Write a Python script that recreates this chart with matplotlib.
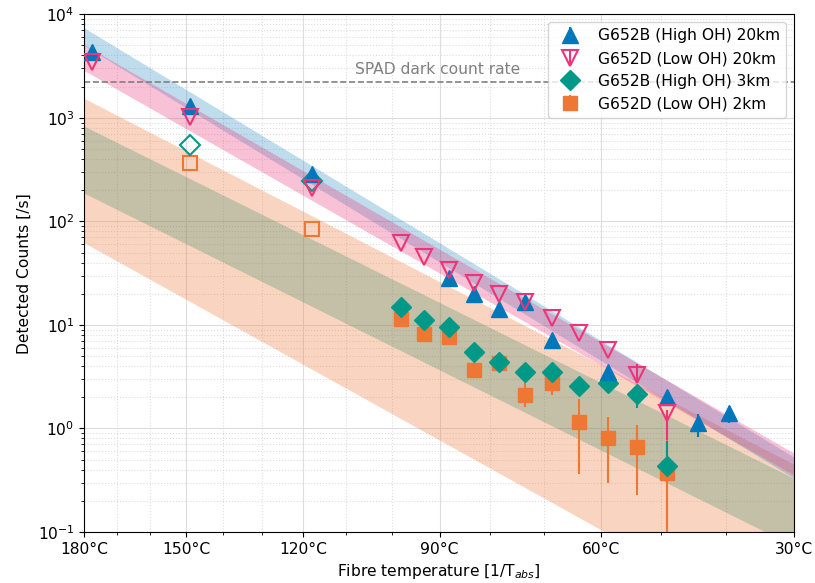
import numpy as np
import matplotlib
matplotlib.use('Agg')
import matplotlib.pyplot as plt
from matplotlib.ticker import FixedLocator, FixedFormatter

plt.rcParams['font.size'] = 11.2

# temperatures of measurement points (deg C)
temp_b20 = [177.7, 148.9, 117.9, 88.1, 83.2, 78.3, 73.5, 68.6, 58.8, 49.1, 44.2, 39.5]
cnt_b20 = [4300, 1300, 286, 28.1, 20.1, 14.4, 16.7, 7.1, 3.5, 2.0, 1.12, 1.40]
err_b20_lo = [0, 0, 0, 0, 0, 0, 0, 0, 0, 0, 0.30, 0.27]
err_b20_hi = [0, 0, 0, 0, 0, 0, 0, 0, 0, 0, 0.25, 0.24]

temp_d20 = [177.7, 148.9, 117.9, 98.1, 93.2, 88.1, 83.2, 78.3, 73.5, 68.6, 63.8, 58.8, 54.0, 49.1]
cnt_d20 = [3490, 1020, 208, 62, 45.5, 33.8, 25.2, 20.1, 16.7, 11.6, 8.3, 5.7, 3.27, 1.40]
err_d20_lo = [0, 0, 0, 0, 0, 0, 0, 0, 0, 0, 0, 0, 0.55, 0.62]
err_d20_hi = [0, 0, 0, 0, 0, 0, 0, 0, 0, 0, 0, 0, 0.95, 0.10]

temp_b3 = [148.9, 117.9, 98.1, 93.2, 88.1, 83.2, 78.3, 73.5, 68.6, 63.8, 58.8, 54.0, 49.1]
cnt_b3 = [547, 245, 15.0, 11.1, 9.5, 5.5, 4.4, 3.5, 3.5, 2.56, 2.76, 2.14, 0.43]
err_b3_lo = [0, 0, 0, 0, 0, 0, 0, 0, 0, 0, 0, 0.58, 0]
err_b3_hi = [0, 0, 0, 0, 0, 0, 0, 0, 0, 0, 0, 0, 0.32]

temp_d2 = [148.9, 117.9, 98.1, 93.2, 88.1, 83.2, 78.3, 73.5, 68.6, 63.8, 58.8, 54.0, 49.1]
cnt_d2 = [363, 84, 11.3, 8.15, 7.6, 3.7, 4.25, 2.1, 2.72, 1.16, 0.80, 0.66, 0.37]
err_d2_lo = [0, 0, 0, 0, 0, 0, 0, 0.5, 0.6, 0.80, 0.50, 0.43, 0.36]
err_d2_hi = [0, 0, 0, 0, 0, 0, 0, 0.8, 0.7, 0.76, 0.49, 0.43, 0.41]
open_pts = 2  # first two 3km/2km points drawn hollow

# fit bands: edge values (lower, upper) at 180 C and 30 C
band_temp = [180, 30]
band_b20 = ([4980, 0.331], [7380, 0.528])
band_d20 = ([2860, 0.354], [5070, 0.577])
band_b3 = ([187, 0.073], [830, 0.33])
band_d2 = ([62, 0.0097], [1540, 0.45])

spad_rate = 2200

major_t = [180, 150, 120, 90, 60, 30]
minor_t = [170, 160, 140, 130, 110, 100, 80, 70, 50, 40]

c_blue = '#0077BB'
c_mag = '#EE3377'
c_teal = '#009988'
c_orange = '#EE7733'


def inv(t):
    return 1.0 / (np.asarray(t, dtype=float) + 273.15)


fig = plt.figure(figsize=(8.15, 5.83), dpi=100)
ax = fig.add_axes([0.1034, 0.0875, 0.8708, 0.888])

bx = inv(band_temp)
ax.fill_between(bx, band_b3[0], band_b3[1], color=c_teal, alpha=0.3, lw=0)
ax.fill_between(bx, band_d2[0], band_d2[1], color=c_orange, alpha=0.3, lw=0)
ax.fill_between(bx, band_b20[0], band_b20[1], color=c_blue, alpha=0.25, lw=0)
ax.fill_between(bx, band_d20[0], band_d20[1], color=c_mag, alpha=0.3, lw=0)

ax.axhline(spad_rate, color='gray', ls='--', lw=1.2)
ax.text(inv(108), spad_rate * 1.12, 'SPAD dark count rate', color='gray',
        ha='left', va='bottom')

ax.errorbar(inv(temp_b20), cnt_b20, yerr=[err_b20_lo, err_b20_hi], fmt='^',
            color=c_blue, ms=11, label='G652B (High OH) 20km', zorder=5)
ax.errorbar(inv(temp_d20), cnt_d20, yerr=[err_d20_lo, err_d20_hi], fmt='v',
            color=c_mag, mfc='none', mew=1.5, ms=11, label='G652D (Low OH) 20km',
            zorder=6)
ax.errorbar(inv(temp_b3[open_pts:]), cnt_b3[open_pts:],
            yerr=[err_b3_lo[open_pts:], err_b3_hi[open_pts:]], fmt='D',
            color=c_teal, ms=10, label='G652B (High OH) 3km', zorder=4)
ax.plot(inv(temp_b3[:open_pts]), cnt_b3[:open_pts], 'D', color=c_teal,
        mfc='none', mew=1.5, ms=10, zorder=4)
ax.errorbar(inv(temp_d2[open_pts:]), cnt_d2[open_pts:],
            yerr=[err_d2_lo[open_pts:], err_d2_hi[open_pts:]], fmt='s',
            color=c_orange, ms=10, label='G652D (Low OH) 2km', zorder=3)
ax.plot(inv(temp_d2[:open_pts]), cnt_d2[:open_pts], 's', color=c_orange,
        mfc='none', mew=1.5, ms=10, zorder=3)

ax.set_yscale('log')
ax.set_ylim(0.1, 1e4)
ax.set_xlim(inv(180), inv(30))
ax.xaxis.set_major_locator(FixedLocator(inv(major_t)))
ax.xaxis.set_major_formatter(FixedFormatter([f'{t}°C' for t in major_t]))
ax.xaxis.set_minor_locator(FixedLocator(inv(minor_t)))

ax.grid(True, which='major', color='#dddddd', lw=0.8)
ax.grid(True, which='minor', color='#dddddd', ls=':', lw=0.8)
ax.set_axisbelow(True)

ax.set_xlabel('Fibre temperature [1/T$_{abs}$]')
ax.set_ylabel('Detected Counts [/s]')
ax.legend(loc='upper right')

fig.savefig('out.png', dpi=100)
